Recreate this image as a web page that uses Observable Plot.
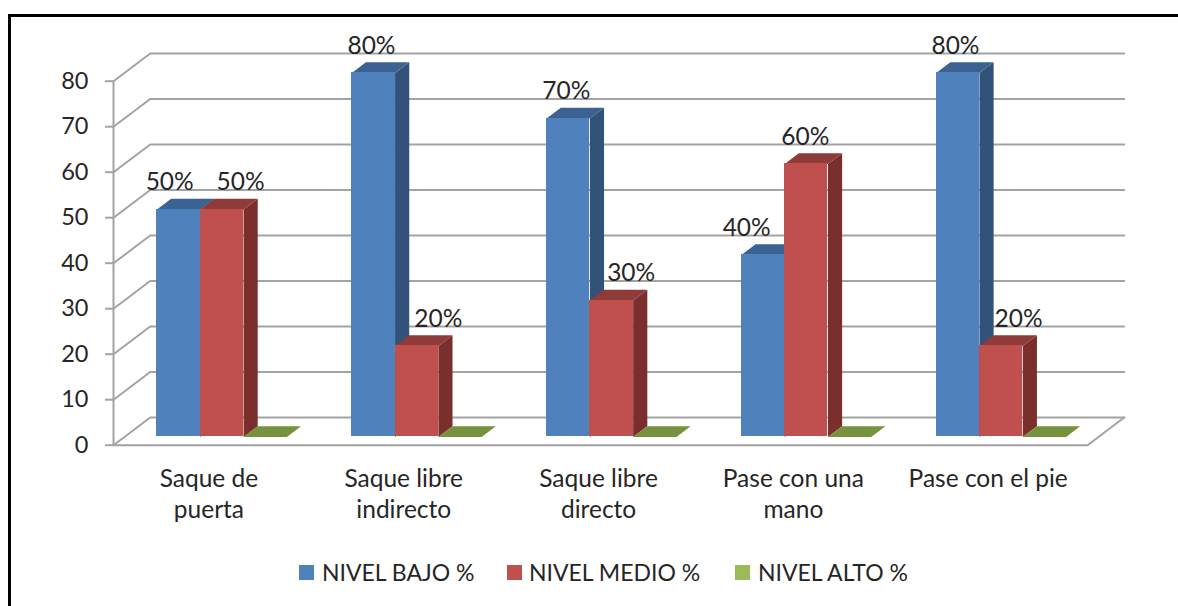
<!DOCTYPE html>
<html>
<head>
<meta charset="utf-8">
<script src="https://cdn.jsdelivr.net/npm/d3@7"></script>
<script src="https://cdn.jsdelivr.net/npm/@observablehq/plot@0.6"></script>
<style>
html,body{margin:0;padding:0;background:#fff;width:1178px;height:606px;overflow:hidden}
#frame{position:absolute;left:8px;top:14px;right:0;bottom:0;border-top:3px solid #000;border-left:3px solid #000;pointer-events:none}
#chart{position:absolute;left:0;top:0}
#legend{position:absolute;left:0;top:550px;width:1178px;height:56px;font-family:Lato,sans-serif;font-size:23px;color:#262626}
#legend .sw{position:absolute;top:15px;width:15px;height:15px}
#legend .lb{position:absolute;top:8px;line-height:28px;white-space:nowrap}
</style>
</head>
<body>
<div id="chart"></div>
<div id="frame"></div>
<div id="legend"></div>
<script>
// ---- data ----
const categories = ["Saque de\npuerta", "Saque libre\nindirecto", "Saque libre\ndirecto", "Pase con una\nmano", "Pase con el pie"];
const seriesNames = ["NIVEL BAJO %", "NIVEL MEDIO %", "NIVEL ALTO %"];
const nivelBajo = [50, 80, 70, 40, 80];
const nivelMedio = [50, 20, 30, 60, 20];
const nivelAlto = [0, 0, 0, 0, 0];
const yTicks = [0, 10, 20, 30, 40, 50, 60, 70, 80];

// ---- styles ----
const frontColors = ["#4F81BD", "#C0504D", "#9BBB59"];
const sideColors = ["#32527A", "#7A2F2D", "#5F7A33"];
const topColors = ["#3C6291", "#8F3B39", "#76923C"];
const gridColor = "#A3A3A3";
const textColor = "#262626";
const font = "Lato, sans-serif";

// ---- oblique projection: depth z (0 front wall, 1 back wall) shifts x and y in data units ----
const zx = 0.1884, zy = 6.09;
const zFront = 0.30, zBack = 0.686;
const barW = 1 / 4.5, barGap = 1 / 6;
const X = (x, z) => x + z * zx;
const Y = (v, z) => v + z * zy;
const nCat = categories.length;

const series = [nivelBajo, nivelMedio, nivelAlto];
const bars = series.map((vals, s) => vals.map((value, i) => {
  const x1 = i + barGap + s * barW;
  return {s, i, value, x1, x2: x1 + barW};
}));

const sidePts = b => [
  {k: b.i, x: X(b.x2, zFront), y: Y(0, zFront)},
  {k: b.i, x: X(b.x2, zBack), y: Y(0, zBack)},
  {k: b.i, x: X(b.x2, zBack), y: Y(b.value, zBack)},
  {k: b.i, x: X(b.x2, zFront), y: Y(b.value, zFront)}
];
const topPts = b => [
  {k: b.i, x: X(b.x1, zFront), y: Y(b.value, zFront)},
  {k: b.i, x: X(b.x2, zFront), y: Y(b.value, zFront)},
  {k: b.i, x: X(b.x2, zBack), y: Y(b.value, zBack)},
  {k: b.i, x: X(b.x1, zBack), y: Y(b.value, zBack)}
];

const gridPts = yTicks.flatMap(v => [
  {k: v, x: X(0, 0), y: Y(v, 0)},
  {k: v, x: X(0, 1), y: Y(v, 1)},
  {k: v, x: X(nCat, 1), y: Y(v, 1)}
]);
const floorPts = [
  {x: X(0, 0), y: Y(0, 0)},
  {x: X(nCat, 0), y: Y(0, 0)},
  {x: X(nCat, 1), y: Y(0, 1)}
];

// Hand-placed data labels in the reference: horizontal nudge in category units
const labelNudge = [
  [-0.046, -0.010, -0.010, -0.084, -0.012],
  [0.096, 0.111, 0.101, -0.005, 0.090]
];
const labels = bars.slice(0, 2).flatMap((row, s) => row.map((b, i) => ({
  x: X((b.x1 + b.x2) / 2 + labelNudge[s][i], zFront),
  y: Y(b.value, zFront),
  text: b.value + "%"
})));

const barMarks = bars.flatMap((row, s) => [
  Plot.line(row.flatMap(sidePts), {x: "x", y: "y", z: "k", fill: sideColors[s], stroke: null}),
  Plot.line(row.flatMap(topPts), {x: "x", y: "y", z: "k", fill: topColors[s], stroke: null}),
  Plot.rect(row.filter(b => b.value > 0), {
    x1: b => X(b.x1, zFront),
    x2: b => X(b.x2, zFront),
    y1: () => Y(0, zFront),
    y2: b => Y(b.value, zFront),
    fill: frontColors[s],
    shapeRendering: "crispEdges"
  })
]);

const chart = Plot.plot({
  width: 1178,
  height: 550,
  marginLeft: 113,
  marginRight: 91,
  marginTop: 80.7,
  marginBottom: 105.3,
  style: {fontFamily: font, background: "transparent", overflow: "visible"},
  x: {domain: [0, nCat], axis: null},
  y: {domain: [0, 80], axis: null},
  marks: [
    Plot.line(gridPts, {x: "x", y: "y", z: "k", stroke: gridColor, strokeWidth: 2}),
    Plot.line(floorPts, {x: "x", y: "y", stroke: gridColor, strokeWidth: 2}),
    Plot.ruleX([0], {y1: 0, y2: 80, stroke: gridColor, strokeWidth: 2}),
    Plot.axisY({
      ticks: yTicks, tickSize: 8, tickPadding: 17,
      stroke: gridColor, strokeWidth: 2, fill: textColor, fontSize: 23.5,
      label: null
    }),
    ...barMarks,
    Plot.text(labels, {
      x: "x", y: "y", text: "text", dy: -19, lineAnchor: "bottom",
      fontSize: 24.5, fill: textColor
    }),
    Plot.text(categories, {
      x: (d, i) => i + 0.49, y: () => 0, text: d => d,
      dy: 20, lineAnchor: "top", lineHeight: 1.27,
      fontSize: 24.5, fill: textColor
    })
  ]
});
document.getElementById("chart").appendChild(chart);

// ---- legend ----
const legendLeft = [[299, 322], [507, 529], [735, 758]];
const legend = document.getElementById("legend");
seriesNames.forEach((name, s) => {
  const sw = document.createElement("span");
  sw.className = "sw";
  sw.style.left = legendLeft[s][0] + "px";
  sw.style.background = frontColors[s];
  const lb = document.createElement("span");
  lb.className = "lb";
  lb.style.left = legendLeft[s][1] + "px";
  lb.textContent = name;
  legend.append(sw, lb);
});
</script>
</body>
</html>
